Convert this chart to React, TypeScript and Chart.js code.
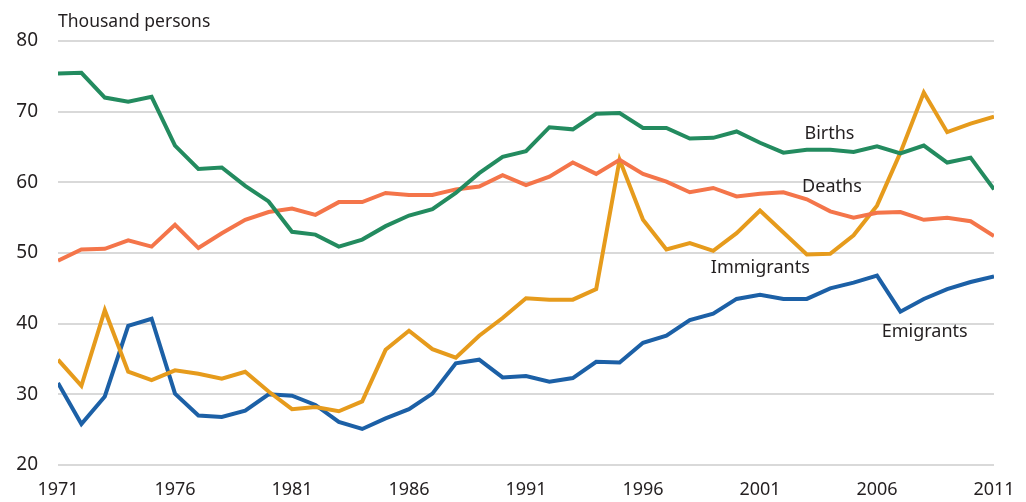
import React, { useEffect, useRef } from "react";
import { Chart, registerables } from "chart.js";

Chart.register(...registerables);

const years = Array.from({ length: 41 }, (_, i) => 1971 + i);

const births = [
  75.4, 75.5, 72.0, 71.4, 72.1, 65.2, 61.9, 62.1, 59.5, 57.3,
  53.0, 52.6, 50.9, 51.9, 53.8, 55.3, 56.2, 58.5, 61.3, 63.6,
  64.4, 67.8, 67.5, 69.7, 69.8, 67.7, 67.7, 66.2, 66.3, 67.2,
  65.6, 64.2, 64.6, 64.6, 64.3, 65.1, 64.1, 65.2, 62.8, 63.5, 59.0,
];
const deaths = [
  48.9, 50.5, 50.6, 51.8, 50.9, 54.0, 50.7, 52.8, 54.7, 55.8,
  56.3, 55.4, 57.2, 57.2, 58.5, 58.2, 58.2, 59.0, 59.4, 61.0,
  59.6, 60.8, 62.8, 61.2, 63.2, 61.2, 60.1, 58.6, 59.2, 58.0,
  58.4, 58.6, 57.6, 55.9, 55.0, 55.7, 55.8, 54.7, 55.0, 54.5, 52.4,
];
const immigrants = [
  34.9, 31.2, 41.9, 33.2, 32.0, 33.4, 32.9, 32.2, 33.2, 30.4,
  27.9, 28.2, 27.6, 29.0, 36.3, 39.0, 36.4, 35.2, 38.3, 40.8,
  43.6, 43.4, 43.4, 44.9, 63.2, 54.7, 50.5, 51.4, 50.3, 52.8,
  56.0, 52.9, 49.8, 49.9, 52.5, 56.7, 64.2, 72.7, 67.1, 68.3, 69.3,
];
const emigrants = [
  31.6, 25.8, 29.7, 39.7, 40.7, 30.1, 27.0, 26.8, 27.7, 30.0,
  29.8, 28.5, 26.1, 25.1, 26.6, 27.9, 30.1, 34.4, 34.9, 32.4,
  32.6, 31.8, 32.3, 34.6, 34.5, 37.3, 38.3, 40.5, 41.4, 43.5,
  44.1, 43.5, 43.5, 45.0, 45.8, 46.8, 41.7, 43.5, 44.9, 45.9, 46.7,
];

const seriesNames = ["Births", "Deaths", "Immigrants", "Emigrants"];
const seriesColors = ["#238b5f", "#f4754a", "#e69b1c", "#1c60a6"];
// label anchor: [year, value] in data space (left edge, vertical centre)
const labelAnchors: [number, number][] = [
  [2002.9, 66.8],
  [2002.8, 59.4],
  [1998.9, 47.9],
  [2006.2, 38.9],
];
const yTicks = [20, 30, 40, 50, 60, 70, 80];
const xTicks = [1971, 1976, 1981, 1986, 1991, 1996, 2001, 2006, 2011];
const axisTitle = "Thousand persons";

const FONT = "'Noto Sans', 'Open Sans', sans-serif";
const TEXT = "#231f20";

export default function App() {
  const ref = useRef<HTMLCanvasElement | null>(null);

  useEffect(() => {
    if (!ref.current) return;
    const all = [births, deaths, immigrants, emigrants];
    const labelsPlugin = {
      id: "labelsPlugin",
      afterDatasetsDraw(chart: any) {
        const ctx = chart.ctx;
        const xs = chart.scales.x;
        const ys = chart.scales.y;
        ctx.save();
        ctx.fillStyle = TEXT;
        ctx.font = `18px ${FONT}`;
        ctx.textAlign = "left";
        ctx.textBaseline = "middle";
        seriesNames.forEach((n, i) => {
          const [yr, v] = labelAnchors[i];
          ctx.fillText(n, xs.getPixelForValue(yr), ys.getPixelForValue(v));
        });
        ctx.font = `17.5px ${FONT}`;
        ctx.fillText(axisTitle, chart.chartArea.left, 22);
        ctx.restore();
      },
    };

    const chart = new Chart(ref.current, {
      type: "line",
      data: {
        datasets: all.map((arr, i) => ({
          label: seriesNames[i],
          data: arr.map((v, j) => ({ x: years[j], y: v })),
          borderColor: seriesColors[i],
          backgroundColor: seriesColors[i],
          borderWidth: 4,
          pointRadius: 0,
          tension: 0,
          fill: false,
        })),
      },
      options: {
        animation: false,
        responsive: false,
        layout: { padding: { top: 41, right: 32, left: 0, bottom: 0 } },
        plugins: {
          legend: { display: false },
          tooltip: { enabled: false },
          title: { display: false },
        },
        scales: {
          x: {
            type: "linear",
            min: 1971,
            max: 2011,
            afterBuildTicks: (s: any) => {
              s.ticks = xTicks.map((v) => ({ value: v }));
            },
            grid: { display: false, drawTicks: false },
            border: { display: false },
            ticks: {
              color: TEXT,
              font: { family: FONT, size: 18 },
              padding: 14,
              maxRotation: 0,
              autoSkip: false,
              callback: (v: any) => String(v),
            },
            afterFit: (s: any) => {
              s.height = 37;
              s.paddingRight = 0;
              s.paddingLeft = 0;
            },
          },
          y: {
            min: 20,
            max: 80,
            afterBuildTicks: (s: any) => {
              s.ticks = yTicks.map((v) => ({ value: v }));
            },
            grid: { color: "#d9d9d9", lineWidth: 2, drawTicks: false },
            border: { display: false },
            ticks: {
              color: TEXT,
              font: { family: FONT, size: 19 },
              padding: 20,
            },
            afterFit: (s: any) => {
              s.width = 58;
              s.paddingTop = 0;
              s.paddingBottom = 0;
            },
          },
        },
      },
      plugins: [labelsPlugin],
    });
    return () => chart.destroy();
  }, []);

  return (
    <div style={{ position: "fixed", left: 0, top: 0, width: 1026, height: 502, background: "#fff" }}>
      <canvas ref={ref} width={1026} height={502} style={{ width: 1026, height: 502 }} />
    </div>
  );
}
